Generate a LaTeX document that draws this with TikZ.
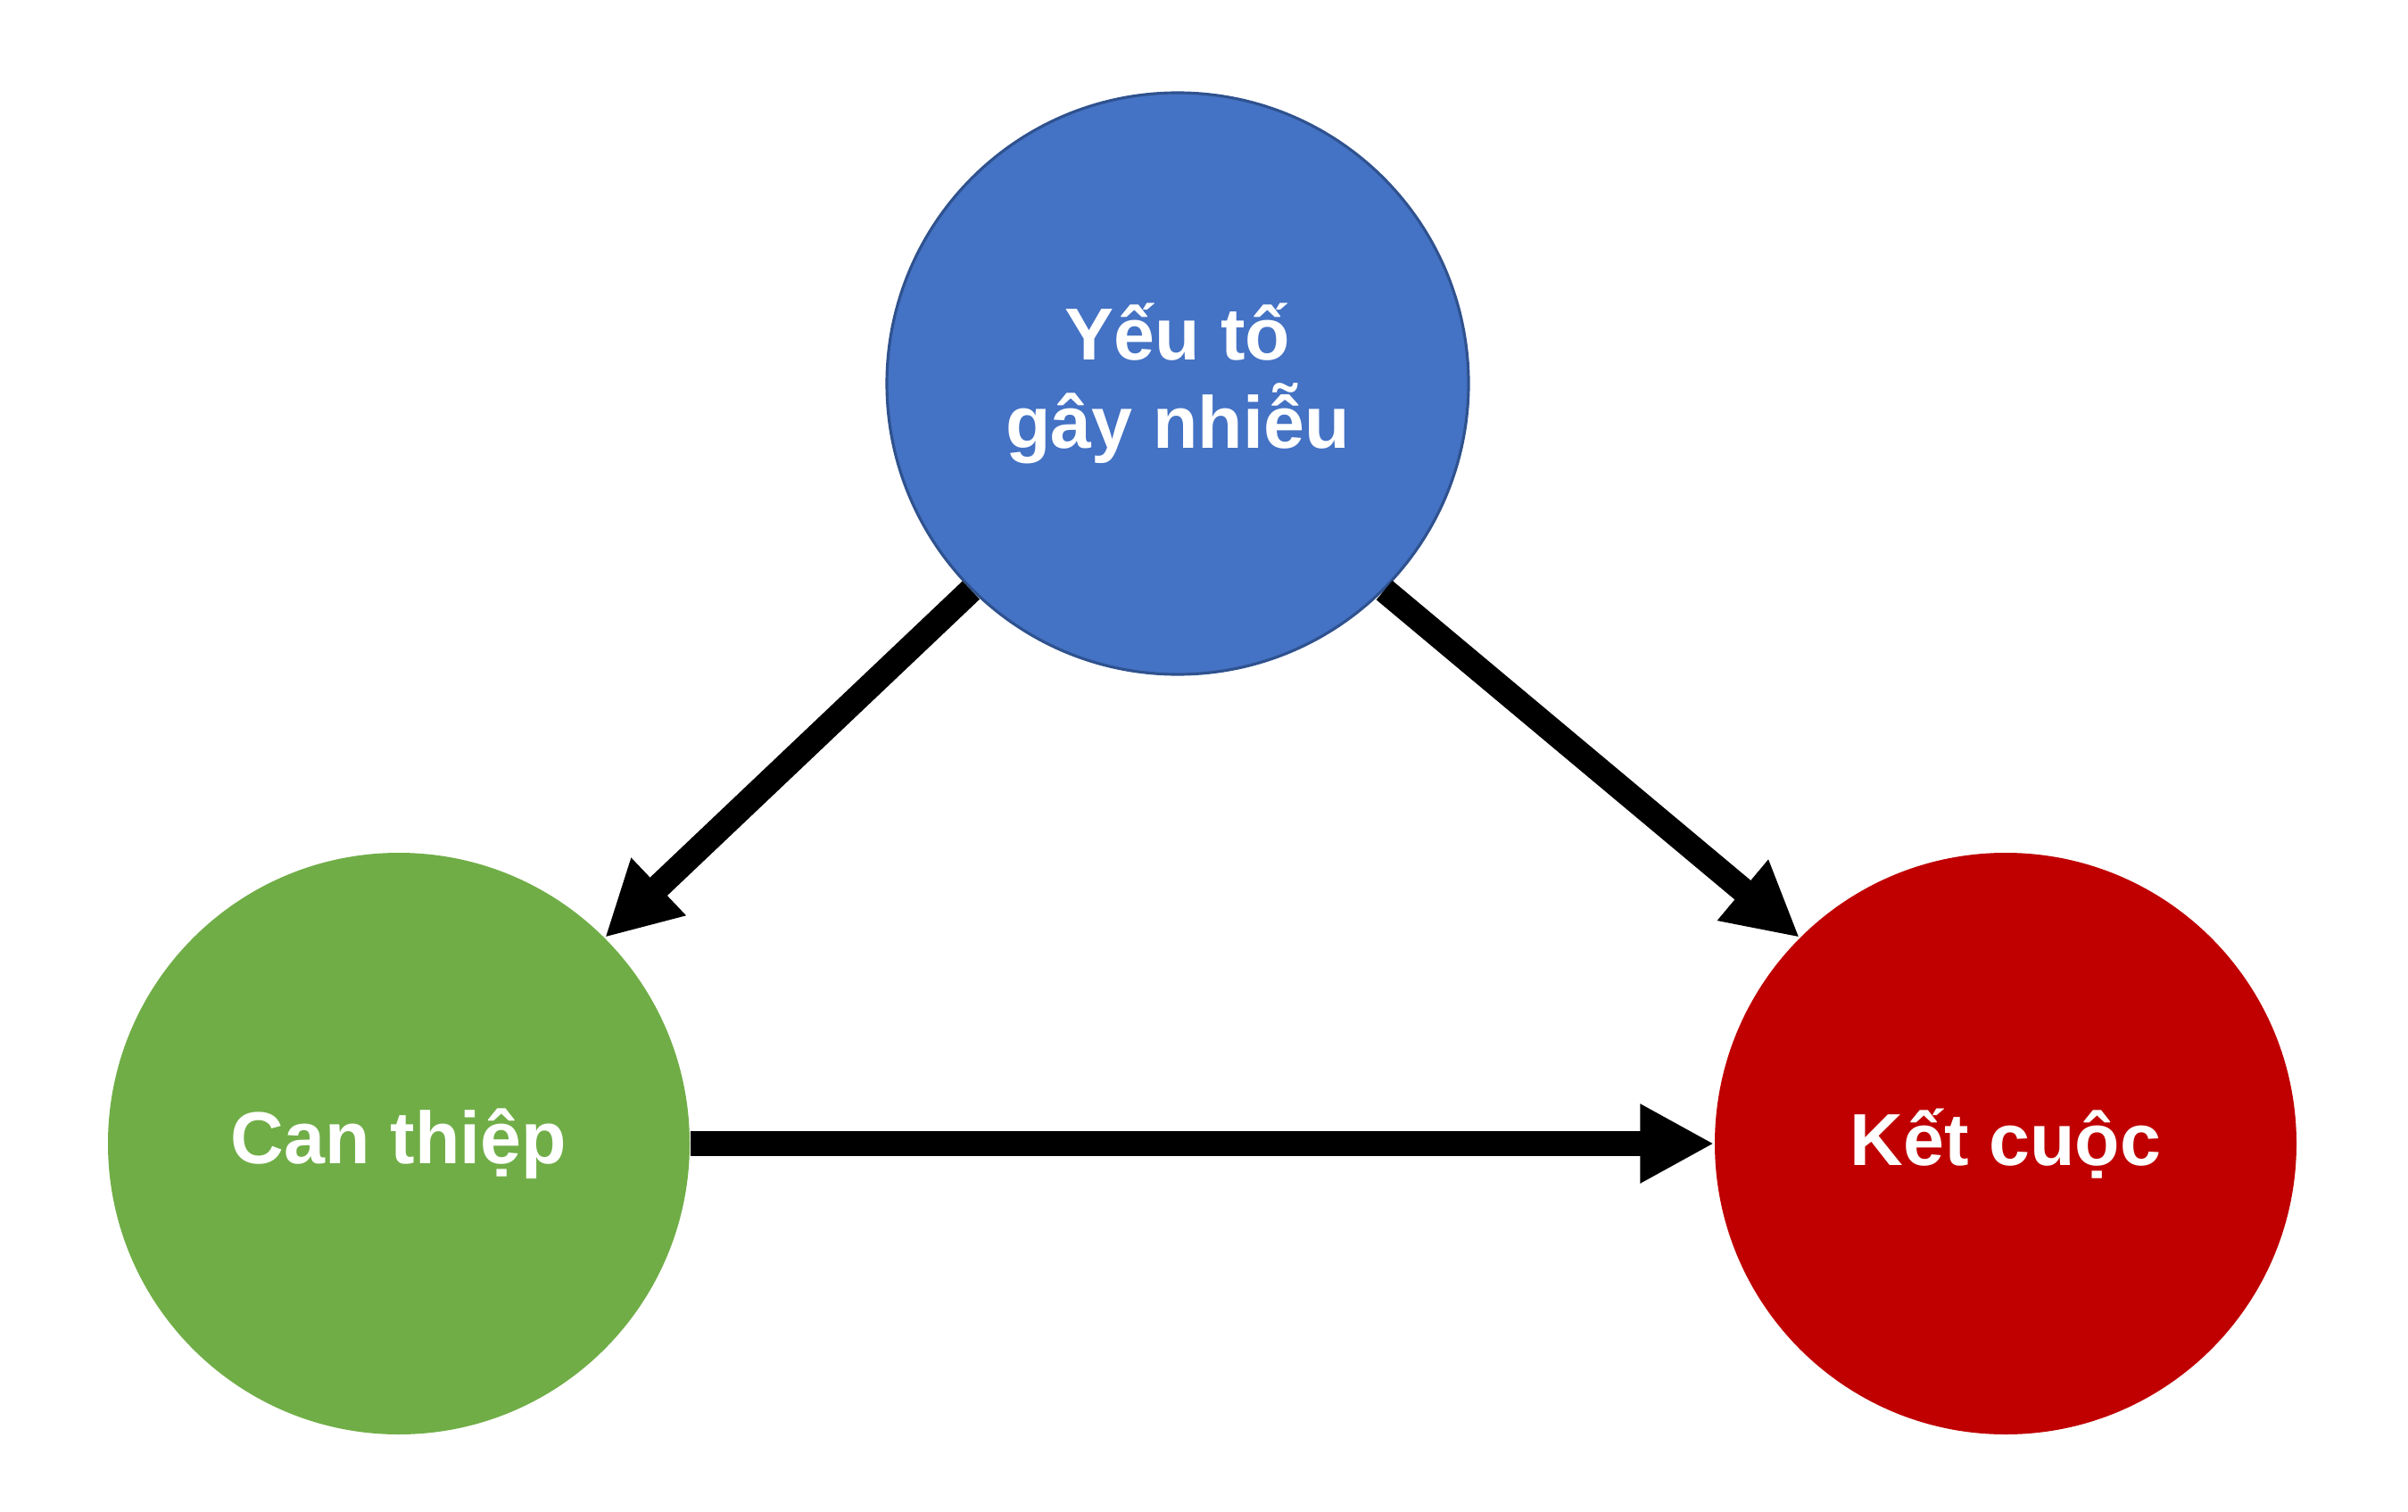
\documentclass[tikz,border=0pt]{standalone}
\usepackage{fontspec}
\setmainfont{Liberation Sans}
\usetikzlibrary{arrows.meta}
\definecolor{cblue}{HTML}{4472C4}
\definecolor{cblueedge}{HTML}{2F528F}
\definecolor{cgreen}{HTML}{70AD47}
\definecolor{cred}{HTML}{C00000}
\tikzset{
  every picture/.style={font=\bfseries},
  factor/.style={circle, fill=#1, minimum size=6.52cm, inner sep=0pt, text=white, align=center,
                 font=\fontsize{23.5}{28}\selectfont\bfseries},
  effect/.style={-{Triangle[length=8.3mm, width=8.3mm]}, draw=black, line width=2.8mm},
}
\begin{document}
\begin{tikzpicture}
  \useasboundingbox (0,0) rectangle (26.99,-16.95);
  \node[factor=cblue, draw=cblueedge, line width=0.9pt] (conf) at (13.20,-4.30) {Yếu tố\\gây nhiễu};
  \node[factor=cgreen] (treat) at (4.47,-12.82) {Can thiệp};
  \node[factor=cred] (outc) at (22.48,-12.82) {Kết cuộc};
  \draw[effect] (conf.225) -- (treat.45);
  \draw[effect] (conf.315) -- (outc.135);
  \draw[effect] (treat) -- (outc);
\end{tikzpicture}
\end{document}
